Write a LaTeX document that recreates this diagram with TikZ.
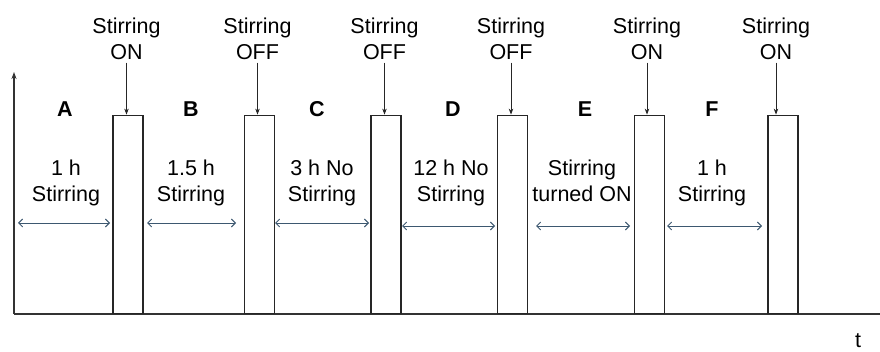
\documentclass[tikz,border=0pt]{standalone}
\usepackage{fontspec}
\setmainfont{Liberation Sans}
\usetikzlibrary{arrows.meta}
\begin{document}
\begin{tikzpicture}[x=1pt,y=-1pt,
  lbl/.style={inner sep=0pt,align=center,font=\fontsize{21.5}{26}\selectfont},
  letter/.style={inner sep=0pt,anchor=base,font=\fontsize{21.5}{26}\selectfont\bfseries},
  bar/.style={draw=black!85,line width=1.4pt,fill=white,minimum width=30pt,minimum height=198pt,inner sep=0pt,anchor=south},
  down/.style={draw=black!85,line width=0.8pt,-{Stealth[length=6pt,width=4.5pt]},shorten <=3pt},
  dbl/.style={color={rgb,255:red,61;green,88;blue,112},line width=0.9pt,{Straight Barb[length=4pt,width=8pt]}-{Straight Barb[length=4pt,width=8pt]}},
  axis/.style={draw=black!80,line width=1.1pt}]
\useasboundingbox (0,0) rectangle (880,352);
\fill[white] (0,0) rectangle (880,352);
% axes
\coordinate (o) at (14,314);
\coordinate (ytop) at (14,72);
\coordinate (xend) at (880,314);
\draw[axis,-{Stealth[length=7pt,width=5pt]}] (o) -- (ytop);
\draw[axis] (o) -- (xend);
\node[inner sep=0pt,anchor=base,font=\fontsize{21.5}{26}\selectfont] (t) at (858,347) {t};
% bars
\node[bar] (b1) at (128,314) {};
\node[bar] (b2) at (259.5,314) {};
\node[bar] (b3) at (386,314) {};
\node[bar] (b4) at (512.5,314) {};
\node[bar] (b5) at (649.5,314) {};
\node[bar] (b6) at (783,314) {};
% top labels
\node[lbl,anchor=north] (s1) at (126.5,17.5) {Stirring\\ON};
\node[lbl,anchor=north] (s2) at (257.5,17.5) {Stirring\\OFF};
\node[lbl,anchor=north] (s3) at (384.5,17.5) {Stirring\\OFF};
\node[lbl,anchor=north] (s4) at (511,17.5) {Stirring\\OFF};
\node[lbl,anchor=north] (s5) at (647,17.5) {Stirring\\ON};
\node[lbl,anchor=north] (s6) at (776,17.5) {Stirring\\ON};
\draw[down] (s1.south) -- (s1.south |- b1.north);
\draw[down] (s2.south) -- (s2.south |- b2.north);
\draw[down] (s3.south) -- (s3.south |- b3.north);
\draw[down] (s4.south) -- (s4.south |- b4.north);
\draw[down] (s5.south) -- (s5.south |- b5.north);
\draw[down] (s6.south) -- (s6.south |- b6.north);
% letters
\node[letter] (lA) at (65,116.5) {A};
\node[letter] (lB) at (191,116.5) {B};
\node[letter] (lC) at (317,116.5) {C};
\node[letter] (lD) at (453,116.5) {D};
\node[letter] (lE) at (585,116.5) {E};
\node[letter] (lF) at (712,116.5) {F};
% middle labels
\node[lbl,anchor=north] (mA) at (66,159.5) {1 h\\Stirring};
\node[lbl,anchor=north] (mB) at (191,159.5) {1.5 h\\Stirring};
\node[lbl,anchor=north] (mC) at (322,159.5) {3 h No\\Stirring};
\node[lbl,anchor=north] (mD) at (451,159.5) {12 h No\\Stirring};
\node[lbl,anchor=north] (mE) at (582,159.5) {Stirring\\turned ON};
\node[lbl,anchor=north] (mF) at (712,159.5) {1 h\\Stirring};
% double arrows
\coordinate (a1) at (18,223);  \coordinate (a2) at (110,223);
\coordinate (b1s) at (147,223); \coordinate (b2s) at (236,223);
\coordinate (c1) at (275,223); \coordinate (c2) at (369,223);
\coordinate (d1) at (402,226); \coordinate (d2) at (495,226);
\coordinate (e1) at (536,226); \coordinate (e2) at (630,226);
\coordinate (f1) at (667,226); \coordinate (f2) at (762,226);
\draw[dbl] (a1) -- (a2);
\draw[dbl] (b1s) -- (b2s);
\draw[dbl] (c1) -- (c2);
\draw[dbl] (d1) -- (d2);
\draw[dbl] (e1) -- (e2);
\draw[dbl] (f1) -- (f2);
\end{tikzpicture}
\end{document}
